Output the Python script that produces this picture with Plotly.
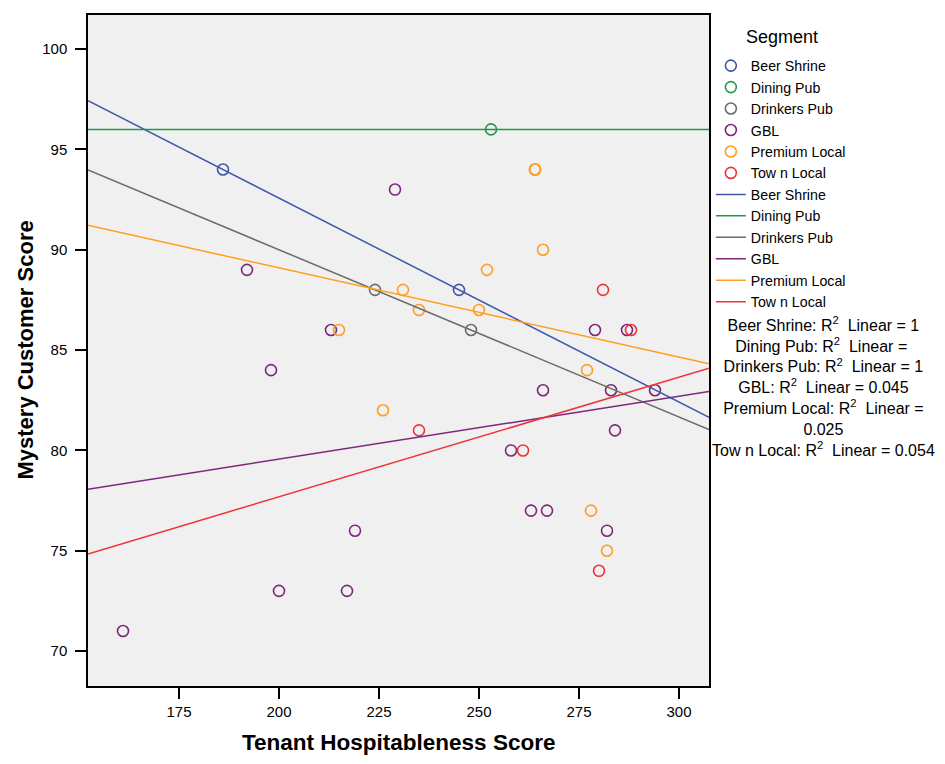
import numpy as np
import plotly.graph_objects as go

# ---------------- data ----------------
segments = ["Beer Shrine", "Dining Pub", "Drinkers Pub", "GBL", "Premium Local", "Tow n Local"]

beer_x = [186, 245]
beer_y = [94, 88]

dining_x = [253]
dining_y = [96]

drinkers_x = [224, 248]
drinkers_y = [88, 86]

gbl_x = [161, 192, 198, 200, 213, 217, 219, 229, 258, 263, 266, 267, 279, 283, 282, 284, 287, 294]
gbl_y = [71, 89, 84, 73, 86, 73, 76, 93, 80, 77, 83, 77, 86, 83, 76, 81, 86, 83]

premium_x = [215, 226, 231, 235, 250, 252, 264, 264, 264, 266, 277, 278, 282]
premium_y = [86, 82, 88, 87, 87, 89, 94, 94, 94, 90, 84, 77, 75]

town_x = [235, 261, 281, 288, 280]
town_y = [81, 80, 88, 86, 74]

r2_labels = ["1", "", "1", "0.045", "0.025", "0.054"]

x_ticks = [175, 200, 225, 250, 275, 300]
y_ticks = [70, 75, 80, 85, 90, 95, 100]

colors = ["#3E58AC", "#1E9A48", "#6B6B6B", "#7C287D", "#FF9E22", "#EF3338"]

X_RANGE = [152.25, 307.5]
Y_RANGE = [68.26, 101.7]

FONT = "Arial, Liberation Sans, sans-serif"

series = [(beer_x, beer_y), (dining_x, dining_y), (drinkers_x, drinkers_y),
          (gbl_x, gbl_y), (premium_x, premium_y), (town_x, town_y)]

fig = go.Figure()

# scatter points
for name, (xs, ys), c in zip(segments, series, colors):
    fig.add_trace(go.Scatter(
        x=xs, y=ys, mode="markers", name=name,
        marker=dict(symbol="circle-open", size=11, color=c, line=dict(width=1.6, color=c)),
    ))

# linear fit lines over full x range
for name, (xs, ys), c in zip(segments, series, colors):
    xs_a = np.array(xs, dtype=float)
    ys_a = np.array(ys, dtype=float)
    if len(xs_a) > 1:
        slope, intercept = np.polyfit(xs_a, ys_a, 1)
    else:
        slope, intercept = 0.0, float(ys_a[0])
    lx = np.array(X_RANGE)
    ly = intercept + slope * lx
    fig.add_trace(go.Scatter(
        x=lx, y=ly, mode="lines", name=name,
        line=dict(color=c, width=1.5),
    ))

r2_lines = []
for name, lab in zip(segments, r2_labels):
    if name == "Premium Local":
        r2_lines.append(f"{name}: R<sup>2</sup>  Linear =")
        r2_lines.append(lab)
    else:
        r2_lines.append(f"{name}: R<sup>2</sup>  Linear = {lab}")
r2_text = "<br>".join(r2_lines)

fig.add_annotation(
    text=r2_text, xref="paper", yref="paper", x=1.1836, y=0.447,
    xanchor="center", yanchor="middle", showarrow=False, align="center",
    font=dict(family=FONT, size=16, color="black"),
)

# legend title
fig.add_annotation(
    text="Segment", xref="paper", yref="paper", x=1.1176, y=0.967,
    xanchor="center", yanchor="middle", showarrow=False,
    font=dict(family=FONT, size=18, color="black"),
)

# axis titles
fig.add_annotation(
    text="<b>Mystery Customer Score</b>", xref="paper", yref="paper", x=-0.1014, y=0.5,
    xanchor="center", yanchor="middle", showarrow=False, textangle=-90,
    font=dict(family=FONT, size=22, color="black"),
)
fig.add_annotation(
    text="<b>Tenant Hospitableness Score</b>", xref="paper", yref="paper", x=0.5, y=-0.0835,
    xanchor="center", yanchor="middle", showarrow=False,
    font=dict(family=FONT, size=22.5, color="black"),
)

fig.update_layout(
    width=937, height=756,
    margin=dict(l=80, r=236, t=7, b=78),
    paper_bgcolor="white",
    plot_bgcolor="#F0F0F0",
    font=dict(family=FONT, size=14, color="black"),
    showlegend=True,
    legend=dict(
        x=1.003, xanchor="left", y=0.948, yanchor="top",
        font=dict(size=14.2),
        tracegroupgap=0,
        bgcolor="rgba(0,0,0,0)",
    ),
    xaxis=dict(
        range=X_RANGE, tickvals=x_ticks, ticks="outside", ticklen=11, tickwidth=1.5,
        tickcolor="black", showgrid=False, zeroline=False, automargin=False,
        showline=True, linecolor="black", linewidth=1.5, mirror=True,
        tickfont=dict(size=15),
    ),
    yaxis=dict(
        range=Y_RANGE, tickvals=y_ticks, ticks="outside", ticklen=11, tickwidth=1.5,
        tickcolor="black", showgrid=False, zeroline=False, automargin=False,
        showline=True, linecolor="black", linewidth=1.5, mirror=True,
        tickfont=dict(size=15), ticklabelstandoff=5,
    ),
)

fig.write_html("out.html")
